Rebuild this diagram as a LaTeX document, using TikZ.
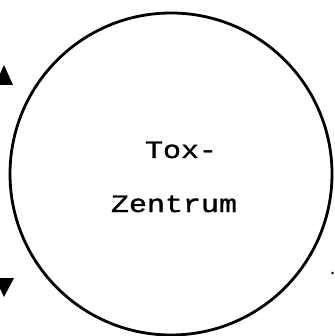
\documentclass[tikz,border=0pt]{standalone}
\usepackage{fontspec}
\newfontfamily\typefont[FakeStretch=1.2,FakeBold=1.2]{Liberation Mono}
\begin{document}
\begin{tikzpicture}[x=1pt,y=-1pt,
  ring/.style={circle,draw,line width=2.8pt,inner sep=0pt},
  label text/.style={font=\typefont\fontsize{25}{25}\selectfont,anchor=base,inner sep=0pt},
  tip/.style={fill=black,draw=none}]
\useasboundingbox (0,0) rectangle (334,336);
% central circle
\node[ring,minimum size=322pt] (tox) at (171,174) {};
% its two lines of text
\node[label text] (l1) at (181,158) {Tox-};
\node[label text] (l2) at (174,212) {Zentrum};
% arrowheads at the left edge
\fill[tip] (-5,85) -- (4,65) -- (13,85) -- cycle;
\fill[tip] (-5,278) -- (14,278) -- (4,297) -- cycle;
% small mark at the right edge
\fill[tip] (332.5,273) circle (1.3);
\end{tikzpicture}
\end{document}
